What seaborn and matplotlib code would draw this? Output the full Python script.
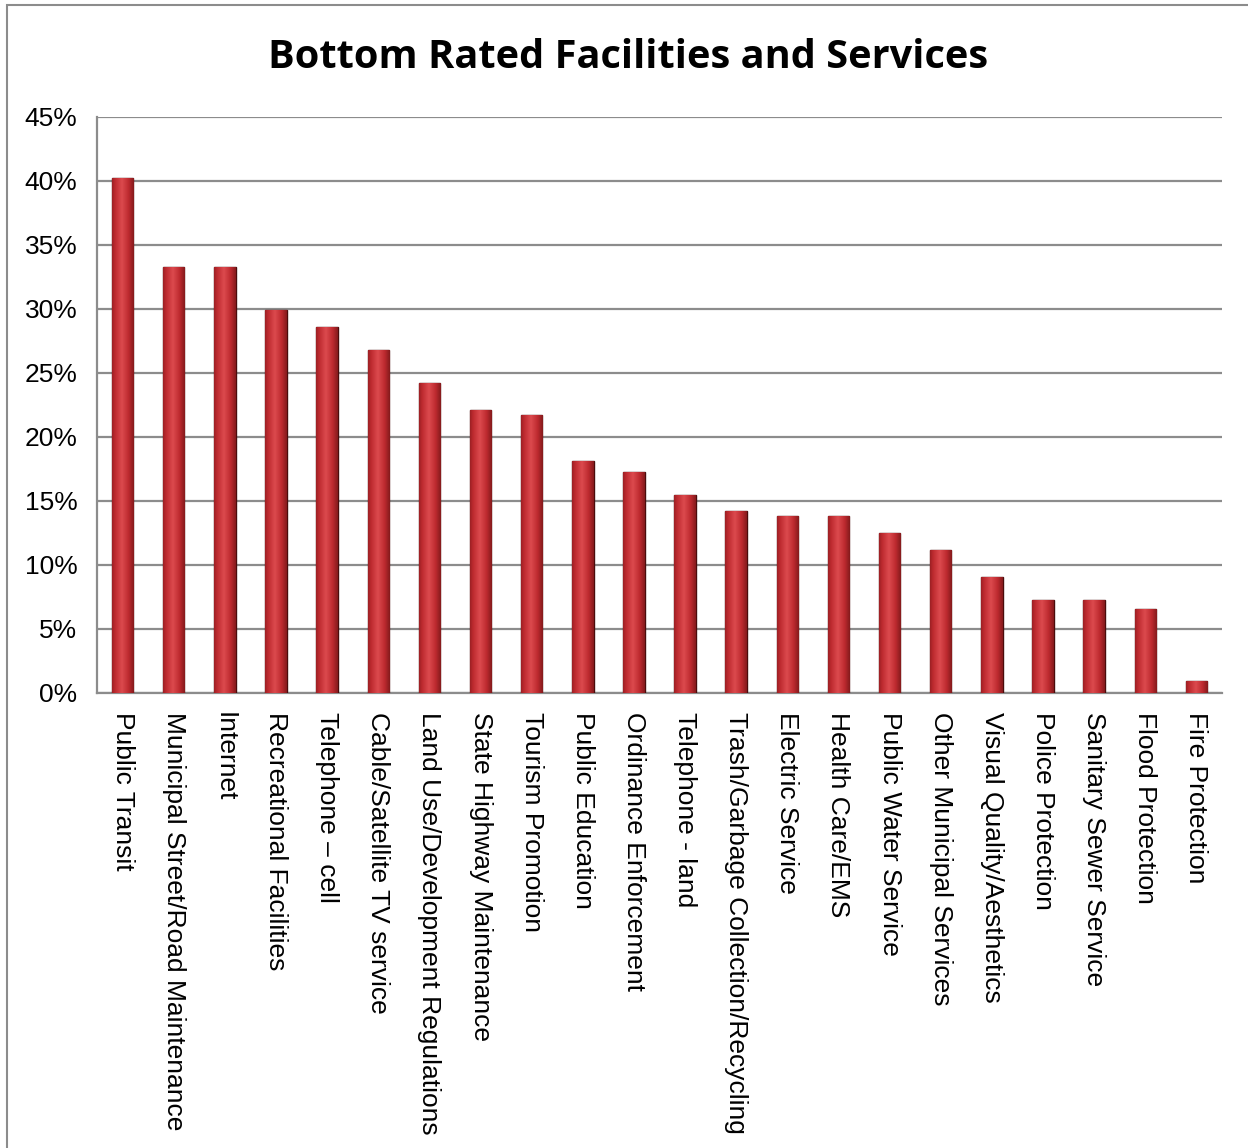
import numpy as np
import pandas as pd
import matplotlib
matplotlib.use("Agg")
import matplotlib.pyplot as plt
from matplotlib.patches import Rectangle
from matplotlib.ticker import PercentFormatter, FixedLocator
import seaborn as sns

# --- Donnees ---
services = [
    "Public Transit", "Municipal Street/Road Maintenance", "Internet",
    "Recreational Facilities", "Telephone \u2013 cell", "Cable/Satellite TV service",
    "Land Use/Development Regulations", "State Highway Maintenance",
    "Tourism Promotion", "Public Education", "Ordinance Enforcement",
    "Telephone - land", "Trash/Garbage Collection/Recycling", "Electric Service",
    "Health Care/EMS", "Public Water Service", "Other Municipal Services",
    "Visual Quality/Aesthetics", "Police Protection", "Sanitary Sewer Service",
    "Flood Protection", "Fire Protection",
]
pct_bottom = [40.2, 33.3, 33.3, 29.9, 28.6, 26.8, 24.2, 22.1, 21.7, 18.1, 17.3,
              15.5, 14.2, 13.8, 13.8, 12.5, 11.2, 9.1, 7.3, 7.3, 6.6, 0.9]
y_ticks = [0, 5, 10, 15, 20, 25, 30, 35, 40, 45]

df = pd.DataFrame({"Service": services, "Pct": pct_bottom})

sns.set_style("white")
plt.rcParams["font.family"] = ["Liberation Sans", "DejaVu Sans"]
plt.rcParams["text.color"] = "black"
plt.rcParams["xtick.labelcolor"] = "black"
plt.rcParams["ytick.labelcolor"] = "black"

fig = plt.figure(figsize=(12.48, 11.48), dpi=100)
ax = fig.add_axes([97 / 1248, 1 - 693 / 1148, 1125 / 1248, 576 / 1148])

sns.barplot(data=df, x="Service", y="Pct", color="#c4282d", width=0.42,
            edgecolor="#4a0c0c", linewidth=1.0, saturation=1, ax=ax, zorder=3)

# degrade cylindrique sur chaque barre
grad = np.linspace(0, 1, 64)
shade = 1 - np.abs(grad - 0.45) * 1.6
cmap = matplotlib.colors.LinearSegmentedColormap.from_list(
    "cyl", ["#741517", "#bd2a2f", "#dc4a4e"])
for p in ax.patches:
    x0, y0 = p.get_x(), p.get_y()
    w, h = p.get_width(), p.get_height()
    im = ax.imshow(shade[np.newaxis, :], extent=[x0, x0 + w, y0, y0 + h],
                   aspect="auto", cmap=cmap, vmin=0, vmax=1, zorder=3.5)
    im.set_clip_path(p)

ax.set_xlim(-0.5, len(services) - 0.5)
ax.set_ylim(0, 45)
ax.yaxis.set_major_locator(FixedLocator(y_ticks))
ax.yaxis.set_major_formatter(PercentFormatter(decimals=0))
ax.grid(axis="y", color="#8c8c8c", linewidth=1.6, zorder=0)
ax.set_axisbelow(True)

ax.set_xticks(range(len(services)))
ax.set_xticklabels(services, rotation=270, ha="center", va="top", fontsize=19)
ax.set_xticks(np.arange(-0.5, len(services), 1), minor=True)
ax.tick_params(axis="x", which="major", length=0, pad=14)
ax.tick_params(axis="x", which="minor", length=8, width=1.4, color="#8c8c8c", direction="out")
ax.tick_params(axis="y", length=8, width=1.4, color="#8c8c8c", labelsize=19, pad=6, direction="out")
ax.set_xlabel("")
ax.set_ylabel("")

for s in ["top", "right"]:
    ax.spines[s].set_visible(False)
for s in ["left", "bottom"]:
    ax.spines[s].set_color("#8c8c8c")
    ax.spines[s].set_linewidth(1.6)

fig.text(628 / 1248, 1 - 57 / 1148, "Bottom Rated Facilities and Services",
         ha="center", va="center", fontsize=28.6, fontweight="bold",
         color="black", family=["Open Sans", "DejaVu Sans"])

# cadre du graphique
fig.patches.append(Rectangle((7 / 1248, -0.01), 1.0, 1 - 5 / 1148 + 0.01,
                             transform=fig.transFigure, fill=False,
                             edgecolor="#8c8c8c", linewidth=1.5))

fig.savefig("out.png", dpi=100)
